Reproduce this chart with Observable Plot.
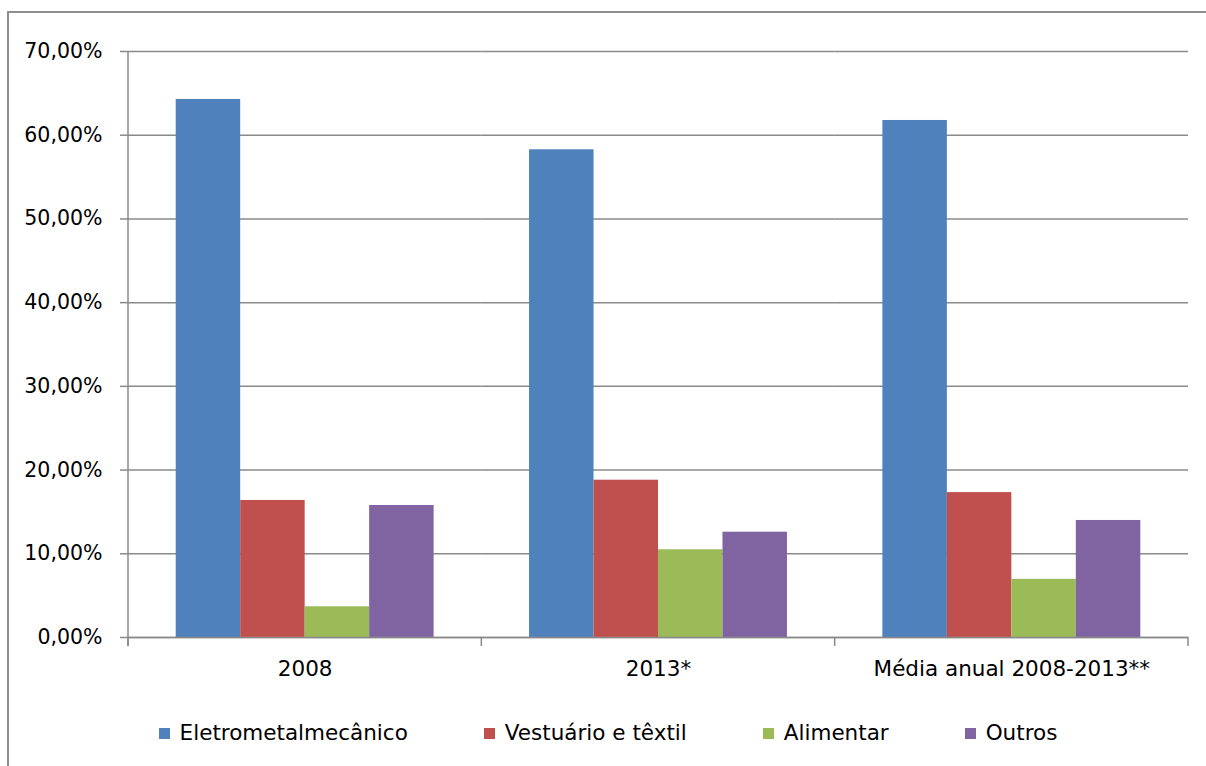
<!DOCTYPE html>
<html><head><meta charset="utf-8">
<script src="https://cdn.jsdelivr.net/npm/d3@7"></script>
<script src="https://cdn.jsdelivr.net/npm/@observablehq/plot@0.6"></script>
<style>
body{margin:0;background:#fff;font-family:"DejaVu Sans",sans-serif;}
#wrap{position:relative;width:1206px;height:766px;overflow:hidden;background:#fff;}
#border{position:absolute;left:7px;top:11px;width:1300px;height:900px;border-left:2px solid #8c8c8c;border-top:2px solid #8c8c8c;}
#chart{position:absolute;left:0;top:0;}
#legend{position:absolute;left:0;top:720px;width:1216px;display:flex;justify-content:center;gap:76px;font-size:21.5px;color:#000;line-height:26px;}
#legend .item{display:flex;align-items:center;}
#legend .sw{width:11px;height:11px;margin-right:10px;}
</style></head>
<body>
<div id="wrap"><div id="border"></div><div id="chart"></div><div id="legend"></div></div>
<script>
const categories = ["2008", "2013*", "Média anual 2008-2013**"];
const series = ["Eletrometalmecânico", "Vestuário e têxtil", "Alimentar", "Outros"];
const eletrometalmecanico = [64.27, 58.26, 61.76];
const vestuarioTextil = [16.37, 18.79, 17.31];
const alimentar = [3.67, 10.48, 6.95];
const outros = [15.77, 12.58, 13.98];
const yTicks = [0, 10, 20, 30, 40, 50, 60, 70];
const colors = ["#4F81BD", "#C0504D", "#9BBB59", "#8064A2"];

const valuesBySeries = [eletrometalmecanico, vestuarioTextil, alimentar, outros];
const data = [];
categories.forEach((c, i) => series.forEach((s, j) => data.push({category: c, series: s, value: valuesBySeries[j][i]})));

const gray = "#8a8a8a";
const chart = Plot.plot({
  width: 1206, height: 700,
  marginLeft: 128, marginRight: 18, marginTop: 51, marginBottom: 63,
  style: {fontFamily: "'DejaVu Sans', sans-serif", fontSize: "20px", color: "#000", background: "transparent", overflow: "visible"},
  fx: {domain: categories, padding: 0, label: null, round: false},
  x: {domain: series, paddingInner: 0, paddingOuter: 0.74, axis: null, round: false},
  y: {domain: [0, 70], ticks: yTicks},
  color: {domain: series, range: colors},
  marks: [
    Plot.gridY(yTicks, {stroke: gray, strokeOpacity: 1, strokeWidth: 1.5}),
    Plot.barY(data, {fx: "category", x: "series", y: "value", fill: "series", inset: 0}),
    Plot.ruleY([0], {stroke: gray, strokeWidth: 1.5}),
    Plot.axisY(yTicks, {tickFormat: d => d.toFixed(2).replace(".", ",") + "%", tickSize: 8, tickPadding: 18, stroke: gray, strokeWidth: 1.5, fill: "#000", label: null, fontSize: 20.5}),
    Plot.axisFx({anchor: "bottom", tickSize: 0, tickPadding: 23, label: null, fill: "#000", fontSize: 21.5})
  ]
});
document.getElementById("chart").appendChild(chart);

// axis line and category boundary ticks using the chart's own scales
const fx = chart.scale("fx"), y = chart.scale("y");
const y0 = y.apply(0), yTop = y.apply(70);
const bounds = categories.map(c => fx.apply(c)).concat([fx.apply(categories[categories.length - 1]) + fx.bandwidth]);
const g = d3.select(chart).append("g").attr("stroke", gray).attr("stroke-width", 1.5);
g.append("line").attr("x1", bounds[0]).attr("x2", bounds[0]).attr("y1", yTop).attr("y2", y0 + 9);
bounds.forEach(b => g.append("line").attr("x1", b).attr("x2", b).attr("y1", y0).attr("y2", y0 + 9));

// legend
const leg = d3.select("#legend");
series.forEach((s, i) => {
  const it = leg.append("div").attr("class", "item");
  it.append("div").attr("class", "sw").style("background", colors[i]);
  it.append("span").text(s);
});
</script>
</body></html>
